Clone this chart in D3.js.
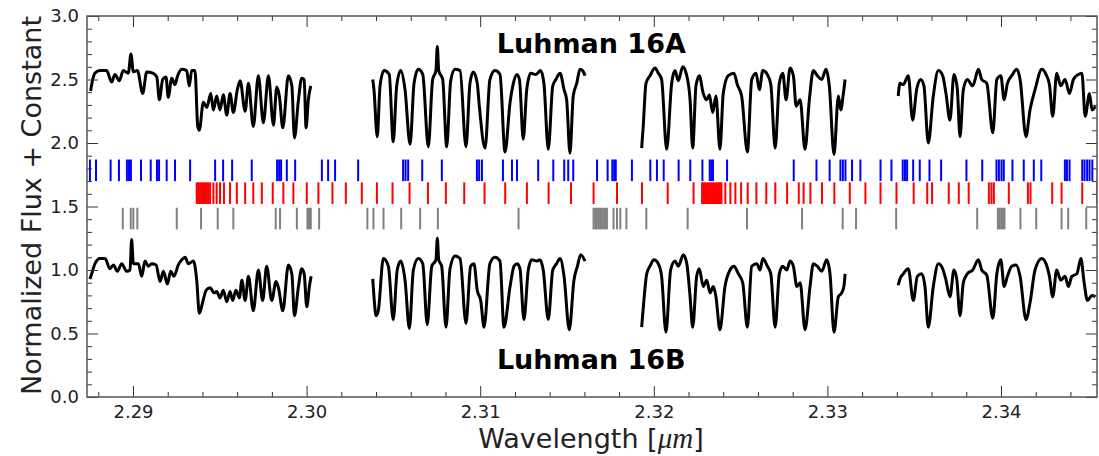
<!DOCTYPE html>
<html lang="en">
<head>
<meta charset="utf-8">
<title>Luhman 16AB</title>
<style>
  body { margin: 0; background: #fff; }
  svg text { font-family: "DejaVu Sans", sans-serif; }
</style>
</head>
<body>
<div id="chart"></div>
<script src="https://d3js.org/d3.v7.min.js"></script>
<script>
// ---- data: [wavelength (micron), normalized flux + constant] ----
const specA1 = [[2.28756,2.41],[2.28762,2.46],[2.28781,2.55],[2.28810,2.57],[2.28848,2.57],[2.28877,2.48],[2.28896,2.54],[2.28921,2.49],[2.28944,2.57],[2.28973,2.55],[2.28988,2.70],[2.29002,2.56],[2.29025,2.57],[2.29056,2.39],[2.29079,2.56],[2.29114,2.55],[2.29137,2.52],[2.29152,2.34],[2.29171,2.50],[2.29190,2.52],[2.29203,2.36],[2.29223,2.51],[2.29242,2.46],[2.29255,2.52],[2.29281,2.58],[2.29309,2.57],[2.29324,2.45],[2.29338,2.57],[2.29357,2.57],[2.29373,2.13],[2.29382,2.10],[2.29405,2.32],[2.29425,2.28],[2.29448,2.39],[2.29463,2.26],[2.29482,2.37],[2.29501,2.26],[2.29520,2.38],[2.29540,2.22],[2.29559,2.39],[2.29578,2.24],[2.29601,2.42],[2.29617,2.49],[2.29646,2.25],[2.29665,2.47],[2.29693,2.13],[2.29722,2.53],[2.29751,2.16],[2.29780,2.53],[2.29809,2.14],[2.29828,2.44],[2.29843,2.37],[2.29863,2.12],[2.29895,2.53],[2.29915,2.45],[2.29930,2.04],[2.29953,2.34],[2.29972,2.51],[2.29986,2.50],[2.29997,2.12],[2.30010,2.34],[2.30024,2.45]];
const specA2 = [[2.30381,2.50],[2.30388,2.42],[2.30407,2.05],[2.30423,2.45],[2.30446,2.57],[2.30476,2.54],[2.30499,2.01],[2.30519,2.45],[2.30542,2.57],[2.30567,2.42],[2.30596,1.99],[2.30619,2.47],[2.30643,2.58],[2.30669,2.54],[2.30701,1.97],[2.30726,2.50],[2.30745,2.57],[2.30753,2.76],[2.30761,2.57],[2.30784,2.50],[2.30807,1.97],[2.30830,2.49],[2.30855,2.58],[2.30884,2.57],[2.30918,1.97],[2.30941,2.47],[2.30960,2.56],[2.30983,2.47],[2.30995,2.29],[2.31028,1.96],[2.31056,2.50],[2.31085,2.57],[2.31114,2.54],[2.31143,1.93],[2.31172,2.32],[2.31191,2.47],[2.31211,2.54],[2.31226,2.50],[2.31248,2.03],[2.31268,2.42],[2.31291,2.55],[2.31321,2.54],[2.31348,2.57],[2.31367,2.47],[2.31392,1.95],[2.31418,2.45],[2.31436,2.50],[2.31460,2.55],[2.31483,2.42],[2.31498,2.34],[2.31517,1.92],[2.31536,2.37],[2.31556,2.47],[2.31575,2.58],[2.31590,2.57],[2.31604,2.53]];
const specA3 = [[2.31930,1.96],[2.31939,2.13],[2.31955,2.47],[2.31978,2.53],[2.32007,2.59],[2.32026,2.55],[2.32045,2.50],[2.32074,1.95],[2.32103,2.47],[2.32122,2.57],[2.32141,2.49],[2.32167,2.60],[2.32186,2.55],[2.32209,2.34],[2.32224,1.96],[2.32243,2.45],[2.32262,2.53],[2.32285,2.39],[2.32305,2.34],[2.32320,2.38],[2.32339,2.24],[2.32358,2.37],[2.32381,1.95],[2.32400,2.39],[2.32429,2.53],[2.32462,2.55],[2.32481,2.46],[2.32506,2.37],[2.32539,1.93],[2.32564,2.50],[2.32589,2.55],[2.32608,2.42],[2.32628,2.57],[2.32654,2.54],[2.32674,2.46],[2.32699,1.96],[2.32723,2.47],[2.32743,2.55],[2.32762,2.34],[2.32785,2.59],[2.32804,2.53],[2.32820,2.29],[2.32843,2.34],[2.32871,1.95],[2.32896,2.34],[2.32919,2.57],[2.32942,2.53],[2.32967,2.50],[2.32992,2.58],[2.33011,2.45],[2.33038,1.91],[2.33063,2.37],[2.33077,2.26],[2.33092,2.39],[2.33102,2.50]];
const specA4 = [[2.33408,2.37],[2.33418,2.47],[2.33437,2.46],[2.33466,2.53],[2.33491,2.18],[2.33514,2.42],[2.33537,2.50],[2.33556,2.45],[2.33581,2.00],[2.33610,2.37],[2.33639,2.57],[2.33664,2.53],[2.33683,2.39],[2.33706,2.18],[2.33729,2.54],[2.33748,2.43],[2.33764,2.05],[2.33783,2.42],[2.33806,2.50],[2.33837,2.45],[2.33870,2.58],[2.33889,2.50],[2.33918,2.47],[2.33953,2.08],[2.33976,2.50],[2.33999,2.53],[2.34018,2.34],[2.34037,2.47],[2.34062,2.53],[2.34091,2.58],[2.34110,2.50],[2.34144,2.05],[2.34167,2.26],[2.34196,2.42],[2.34235,2.58],[2.34259,2.54],[2.34279,2.46],[2.34298,2.21],[2.34321,2.55],[2.34344,2.45],[2.34369,2.50],[2.34394,2.39],[2.34417,2.50],[2.34446,2.54],[2.34466,2.55],[2.34485,2.21],[2.34510,2.39],[2.34524,2.26],[2.34544,2.29]];

const specB1 = [[2.28752,0.93],[2.28762,0.97],[2.28781,1.05],[2.28810,1.09],[2.28839,1.09],[2.28867,1.01],[2.28887,1.04],[2.28910,0.99],[2.28935,1.05],[2.28963,0.99],[2.28983,1.00],[2.28992,1.24],[2.29002,1.05],[2.29031,1.05],[2.29050,0.95],[2.29069,1.07],[2.29088,1.03],[2.29108,1.05],[2.29133,1.04],[2.29156,0.91],[2.29175,0.99],[2.29198,0.89],[2.29217,0.99],[2.29236,0.95],[2.29261,1.04],[2.29281,1.08],[2.29300,1.10],[2.29319,1.05],[2.29348,1.07],[2.29367,0.92],[2.29382,0.66],[2.29402,0.75],[2.29421,0.84],[2.29444,0.86],[2.29467,0.82],[2.29482,0.83],[2.29501,0.78],[2.29520,0.84],[2.29540,0.75],[2.29559,0.83],[2.29574,0.76],[2.29593,0.84],[2.29613,0.78],[2.29627,0.92],[2.29646,0.76],[2.29665,0.95],[2.29693,0.68],[2.29722,1.00],[2.29747,0.76],[2.29770,1.03],[2.29799,0.76],[2.29824,0.91],[2.29838,0.86],[2.29863,0.68],[2.29895,1.04],[2.29915,0.97],[2.29930,0.64],[2.29953,0.87],[2.29972,1.01],[2.29986,0.97],[2.30001,0.71],[2.30016,0.87],[2.30026,0.95]];
const specB2 = [[2.30381,0.93],[2.30388,0.79],[2.30400,0.64],[2.30413,0.68],[2.30442,1.09],[2.30471,1.03],[2.30499,0.61],[2.30522,1.00],[2.30542,1.07],[2.30567,0.92],[2.30592,0.54],[2.30615,1.00],[2.30643,1.09],[2.30669,1.05],[2.30695,0.57],[2.30721,1.03],[2.30745,1.08],[2.30753,1.25],[2.30761,1.08],[2.30778,1.03],[2.30803,0.55],[2.30826,1.01],[2.30855,1.11],[2.30884,1.09],[2.30918,0.58],[2.30945,1.03],[2.30964,1.05],[2.30983,0.84],[2.31003,0.76],[2.31022,0.55],[2.31056,1.05],[2.31085,1.10],[2.31114,1.07],[2.31137,0.55],[2.31172,0.87],[2.31195,1.03],[2.31214,1.05],[2.31229,1.01],[2.31252,0.61],[2.31277,1.00],[2.31297,1.08],[2.31325,1.07],[2.31344,1.08],[2.31363,1.00],[2.31392,0.61],[2.31418,1.00],[2.31440,1.05],[2.31460,1.09],[2.31483,0.95],[2.31513,0.53],[2.31540,0.92],[2.31560,1.03],[2.31579,1.12],[2.31604,1.07]];
const specB3 = [[2.31930,0.55],[2.31943,0.76],[2.31959,0.97],[2.31978,1.03],[2.32001,1.08],[2.32026,1.05],[2.32045,0.95],[2.32070,0.51],[2.32097,1.00],[2.32122,1.07],[2.32141,1.03],[2.32170,1.12],[2.32190,1.05],[2.32209,0.79],[2.32224,0.55],[2.32247,0.95],[2.32262,1.01],[2.32285,0.87],[2.32305,0.92],[2.32324,0.82],[2.32343,0.87],[2.32358,0.79],[2.32381,0.53],[2.32410,0.87],[2.32439,1.00],[2.32462,1.03],[2.32487,0.97],[2.32512,0.90],[2.32539,0.55],[2.32564,1.03],[2.32593,1.05],[2.32612,1.00],[2.32628,1.09],[2.32654,1.03],[2.32674,0.97],[2.32699,0.55],[2.32723,0.97],[2.32743,1.03],[2.32766,1.00],[2.32785,1.07],[2.32804,1.03],[2.32824,0.87],[2.32843,0.90],[2.32871,0.53],[2.32900,0.87],[2.32919,1.05],[2.32942,1.03],[2.32967,0.99],[2.32996,1.08],[2.33015,0.97],[2.33038,0.51],[2.33063,0.79],[2.33082,0.82],[2.33095,0.87],[2.33102,0.97]];
const specB4 = [[2.33408,0.88],[2.33418,0.93],[2.33437,0.97],[2.33466,1.01],[2.33495,0.76],[2.33518,0.95],[2.33543,0.97],[2.33562,0.87],[2.33581,0.55],[2.33610,0.87],[2.33639,1.05],[2.33664,1.01],[2.33683,0.92],[2.33706,0.79],[2.33729,1.00],[2.33745,0.93],[2.33764,0.64],[2.33783,0.90],[2.33806,0.97],[2.33837,1.00],[2.33870,1.08],[2.33889,1.00],[2.33918,0.96],[2.33953,0.62],[2.33976,0.97],[2.33999,1.08],[2.34018,0.87],[2.34037,0.95],[2.34062,1.03],[2.34087,1.04],[2.34110,0.95],[2.34144,0.61],[2.34167,0.74],[2.34196,1.00],[2.34235,1.09],[2.34259,1.05],[2.34279,0.95],[2.34298,0.79],[2.34321,1.00],[2.34344,0.92],[2.34369,0.95],[2.34388,0.87],[2.34408,0.95],[2.34437,0.97],[2.34460,1.09],[2.34479,0.90],[2.34498,0.76],[2.34524,0.80],[2.34544,0.79]];

// ---- line lists (wavelengths, micron) ----
const linesBlue = [2.28752,2.28787,2.28871,2.28919,2.28965,2.28977,2.28988,2.29046,2.29102,2.29138,2.29150,2.29194,2.29242,2.29329,2.29473,2.29519,2.29571,2.29684,2.29830,2.29842,2.29853,2.29886,2.29934,2.30088,2.30124,2.30164,2.30297,2.30556,2.30570,2.30585,2.30666,2.30779,2.30981,2.30994,2.31010,2.31131,2.31183,2.31212,2.31334,2.31421,2.31484,2.31507,2.31536,2.31673,2.31734,2.31761,2.31772,2.31781,2.31874,2.31980,2.32018,2.32057,2.32143,2.32210,2.32280,2.32322,2.32331,2.32341,2.32422,2.32806,2.32937,2.33013,2.33075,2.33089,2.33104,2.33142,2.33190,2.33306,2.33369,2.33434,2.33447,2.33459,2.33494,2.33532,2.33588,2.33655,2.33801,2.33892,2.33974,2.33988,2.34003,2.34016,2.34066,2.34131,2.34189,2.34232,2.34368,2.34380,2.34395,2.34468,2.34481,2.34496,2.34510,2.34526];
const linesRed = [2.29367,2.29375,2.29383,2.29392,2.29401,2.29409,2.29418,2.29426,2.29434,2.29444,2.29463,2.29482,2.29501,2.29524,2.29559,2.29598,2.29646,2.29693,2.29742,2.29805,2.29866,2.29924,2.30001,2.30068,2.30149,2.30226,2.30318,2.30405,2.30495,2.30593,2.30699,2.30802,2.30908,2.31025,2.31144,2.31269,2.31394,2.31523,2.31653,2.31788,2.31932,2.32080,2.32229,2.32278,2.32286,2.32295,2.32304,2.32312,2.32321,2.32330,2.32338,2.32347,2.32355,2.32364,2.32373,2.32381,2.32390,2.32412,2.32441,2.32470,2.32503,2.32541,2.32591,2.32648,2.32700,2.32768,2.32835,2.32863,2.32902,2.32969,2.33040,2.33129,2.33219,2.33306,2.33398,2.33497,2.33575,2.33603,2.33699,2.33757,2.33814,2.33930,2.33945,2.33959,2.34045,2.34155,2.34170,2.34295,2.34349,2.34468,2.34555];
const linesGrey = [2.28941,2.28987,2.29002,2.29025,2.29252,2.29392,2.29488,2.29578,2.29822,2.29847,2.29944,2.30005,2.30014,2.30024,2.30072,2.30350,2.30385,2.30443,2.30545,2.30654,2.30756,2.31221,2.31653,2.31663,2.31672,2.31682,2.31691,2.31701,2.31711,2.31720,2.31730,2.31768,2.31788,2.31807,2.31842,2.31957,2.32195,2.32537,2.32854,2.33088,2.33165,2.33396,2.33863,2.33982,2.33991,2.34001,2.34011,2.34020,2.34112,2.34203,2.34349,2.34387,2.34491];

// flux range of each line-list strip
const stripBlue = [1.70, 1.87];
const stripRed = [1.52, 1.69];
const stripGrey = [1.32, 1.49];

const xTicks = [2.29, 2.30, 2.31, 2.32, 2.33, 2.34];
const yTicks = [0.0, 0.5, 1.0, 1.5, 2.0, 2.5, 3.0];
const xDomain = [2.28735, 2.34553];
const yDomain = [0, 3.0];

// ---- layout ----
const W = 1099, H = 456;
const margin = { top: 16, right: 2, bottom: 59, left: 87 };
const width = W - margin.left - margin.right,
      height = H - margin.top - margin.bottom;

const svg = d3.select("#chart").append("svg")
    .attr("width", W)
    .attr("height", H);

const g = svg.append("g")
    .attr("transform", `translate(${margin.left},${margin.top})`);

const x = d3.scaleLinear().domain(xDomain).range([0, width]);
const y = d3.scaleLinear().domain(yDomain).range([height, 0]);

g.append("clipPath").attr("id", "plotclip")
  .append("rect").attr("width", width).attr("height", height);

const plot = g.append("g").attr("clip-path", "url(#plotclip)");

// line lists
function drawLines(list, strip, colour) {
   plot.append("g")
      .selectAll("line")
      .data(list)
      .join("line")
      .attr("x1", d => x(d))
      .attr("x2", d => x(d))
      .attr("y1", y(strip[0]))
      .attr("y2", y(strip[1]))
      .attr("stroke", colour)
      .attr("stroke-width", 2);
}
drawLines(linesBlue, stripBlue, "#0000ff");
drawLines(linesRed, stripRed, "#ff0000");
drawLines(linesGrey, stripGrey, "#808080");

// spectra (smoothed through the read points)
const line = d3.line()
   .curve(d3.curveMonotoneX)
   .x(d => x(d[0]))
   .y(d => y(d[1]));
[specA1, specA2, specA3, specA4, specB1, specB2, specB3, specB4].forEach(function (s) {
   plot.append("path")
      .datum(s)
      .attr("fill", "none")
      .attr("stroke", "#000")
      .attr("stroke-width", 3)
      .attr("stroke-linejoin", "round")
      .attr("d", line);
});

// ---- axes ----
const xMinor = d3.range(0, 30).map(i => 2.288 + i * 0.002).filter(v => v < xDomain[1] && !xTicks.some(t => Math.abs(t - v) < 1e-6));
const yMinor = d3.range(0, 31).map(i => i * 0.1).filter(v => !yTicks.some(t => Math.abs(t - v) < 1e-6));

function styleAxis(sel) {
   sel.select(".domain").remove();
   sel.selectAll("line").attr("stroke", "#333").attr("stroke-width", 1);
   sel.selectAll("text").attr("fill", "#222").style("font-size", "18px");
}

g.append("g").attr("transform", `translate(0,${height})`)
   .call(d3.axisBottom(x).tickValues(xTicks).tickFormat(d3.format(".2f")).tickSize(-11).tickPadding(8))
   .call(styleAxis);
g.append("g").attr("transform", `translate(0,${height})`)
   .call(d3.axisBottom(x).tickValues(xMinor).tickFormat("").tickSize(-5))
   .call(styleAxis);
g.append("g")
   .call(d3.axisTop(x).tickValues(xTicks).tickFormat("").tickSize(-11))
   .call(styleAxis);
g.append("g")
   .call(d3.axisTop(x).tickValues(xMinor).tickFormat("").tickSize(-5))
   .call(styleAxis);

g.append("g")
   .call(d3.axisLeft(y).tickValues(yTicks).tickFormat(d3.format(".1f")).tickSize(-11).tickPadding(8))
   .call(styleAxis);
g.append("g")
   .call(d3.axisLeft(y).tickValues(yMinor).tickFormat("").tickSize(-5))
   .call(styleAxis);
g.append("g").attr("transform", `translate(${width},0)`)
   .call(d3.axisRight(y).tickValues(yTicks).tickFormat("").tickSize(-11))
   .call(styleAxis);
g.append("g").attr("transform", `translate(${width},0)`)
   .call(d3.axisRight(y).tickValues(yMinor).tickFormat("").tickSize(-5))
   .call(styleAxis);

// frame
g.append("rect")
   .attr("width", width).attr("height", height)
   .attr("fill", "none").attr("stroke", "#555").attr("stroke-width", 1.5);

// ---- labels ----
g.append("text")
   .attr("x", x(2.3164)).attr("y", 37)
   .attr("text-anchor", "middle")
   .style("font-size", "27px").style("font-weight", "bold")
   .text("Luhman 16A");
g.append("text")
   .attr("x", x(2.3164)).attr("y", y(0.22))
   .attr("text-anchor", "middle")
   .style("font-size", "27px").style("font-weight", "bold")
   .text("Luhman 16B");

const xl = svg.append("text")
   .attr("x", margin.left + width / 2 - 1)
   .attr("y", 448)
   .attr("text-anchor", "middle")
   .attr("fill", "#222")
   .style("font-size", "27px");
xl.append("tspan").text("Wavelength [");
xl.append("tspan").style("font-family", "'Liberation Serif', serif").style("font-style", "italic").style("font-size", "29px").text("\u03bcm");
xl.append("tspan").text("]");

svg.append("text")
   .attr("transform", `translate(41,${margin.top + height / 2 - 1}) rotate(-90)`)
   .attr("text-anchor", "middle")
   .attr("fill", "#222")
   .style("font-size", "27px")
   .text("Normalized Flux + Constant");
</script>
</body>
</html>
